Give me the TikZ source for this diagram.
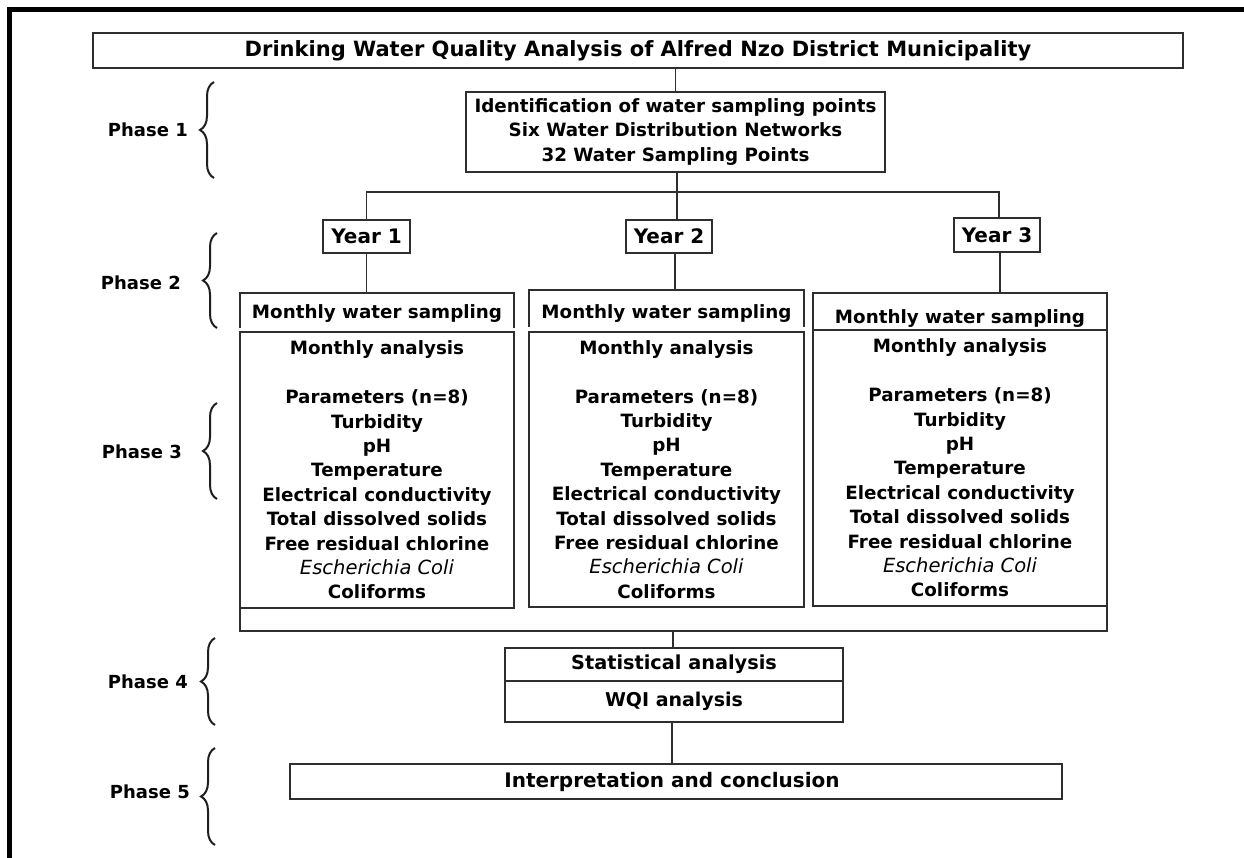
\documentclass[tikz,border=0pt]{standalone}
\usepackage{fontspec}
\setmainfont{DejaVu Sans}
\usetikzlibrary{decorations.pathreplacing}
\begin{document}
\begin{tikzpicture}[x=1pt,y=-1pt,
  box/.style={draw=black!82, line width=1.8pt, inner sep=0pt, outer sep=0pt, align=center,
    font=\bfseries\fontsize{18.3}{24.4}\selectfont},
  openbox/.style={inner sep=0pt, outer sep=0pt, align=center, font=\bfseries\fontsize{18.3}{24.4}\selectfont},
  ln/.style={draw=black!82, line width=1.8pt},
  yearbox/.style={box, font=\bfseries\fontsize{20}{22}\selectfont},
  phase/.style={anchor=east, inner sep=0pt, font=\bfseries\fontsize{18}{22}\selectfont},
  brc/.style={draw=black!88, line width=2pt, decorate, decoration={brace, amplitude=14pt}}]
\useasboundingbox (0,0) rectangle (1244,858);
\fill[white] (0,0) rectangle (1244,858);
% frame
\draw[line width=5.5pt] (9.5,858) -- (9.5,9.5) -- (1244,9.5);

% title
\node[box, minimum width=1090pt, minimum height=35pt, font=\bfseries\fontsize{21}{24}\selectfont] (title) at (638,50.5)
  {Drinking Water Quality Analysis of Alfred Nzo District Municipality};
% identification
\node[box, minimum width=419pt, minimum height=80pt] (ident) at (675.5,132)
  {Identification of water sampling points\\Six Water Distribution Networks\\32 Water Sampling Points};
\draw[ln] (ident.north) -- (ident.north |- title.south);

% years
\node[yearbox, minimum width=87pt, minimum height=33pt] (y1) at (366.5,236.5) {Year 1};
\node[yearbox, minimum width=86pt, minimum height=33pt] (y2) at (669,236.5) {Year 2};
\node[yearbox, minimum width=86pt, minimum height=34pt] (y3) at (997,235) {Year 3};
\coordinate (j) at (677,192);
\draw[ln] (ident.south -| j) -- (j);
\draw[ln] (y1.north) |- (j) -| ([xshift=2pt]y3.north);
\draw[ln] (j) -- (j |- y2.north);

% monthly water sampling
\node[openbox, minimum width=274pt, minimum height=35pt, text height=18pt, text depth=2pt] (m1) at (377,310.5) {Monthly water sampling};
\node[openbox, minimum width=275pt, minimum height=37pt, text height=22pt, text depth=2pt] (m2) at (666.5,308.5) {Monthly water sampling};
\node[box, minimum width=294pt, minimum height=37pt, text height=26pt, text depth=2pt] (m3) at (960,311.5) {Monthly water sampling};
\draw[ln] (m1.south west) -- (m1.north west) -- (m1.north east) -- (m1.south east);
\draw[ln] (m2.south west) -- (m2.north west) -- (m2.north east) -- (m2.south east);
\draw[ln] (y1.south) -- (y1.south |- m1.north);
\draw[ln] ([xshift=6pt]y2.south) -- ([xshift=6pt]y2.south |- m2.north);
\draw[ln] ([xshift=3pt]y3.south) -- ([xshift=3pt]y3.south |- m3.north);

% analysis boxes
\def\analysistext{Monthly analysis\\[24.4pt]Parameters (n=8)\\Turbidity\\pH\\Temperature\\Electrical conductivity\\Total dissolved solids\\Free residual chlorine\\{\mdseries\itshape\fontsize{19.5}{24.4}\selectfont Escherichia Coli}\\Coliforms}
\node[box, minimum width=274pt, minimum height=276pt] (a1) at (377,470) {\analysistext};
\node[box, minimum width=275pt, minimum height=275pt] (a2) at (666.5,469.5) {\analysistext};
\node[box, minimum width=294pt, minimum height=276pt] (a3) at (960,468) {\analysistext};

% outer enclosure
\coordinate (obr) at (1107,631);
\draw[ln] (a1.north west) |- (obr) -- (a3.south east);

% statistical / WQI
\node[box, minimum width=338pt, minimum height=33pt, font=\bfseries\fontsize{19.3}{22}\selectfont] (stat) at (674,664.5) {Statistical analysis};
\node[box, minimum width=338pt, minimum height=41pt, font=\bfseries\fontsize{19}{22}\selectfont] (wqi) at (674,701.5) {WQI analysis};
\coordinate (ob) at (673,631);
\draw[ln] (ob) -- (ob |- stat.north);

% interpretation
\node[box, minimum width=772pt, minimum height=35pt, font=\bfseries\fontsize{20}{24}\selectfont] (interp) at (676,781.5) {Interpretation and conclusion\hspace*{8pt}};
\draw[ln] ([xshift=-2pt]wqi.south) -- ([xshift=-2pt]wqi.south |- interp.north);

% phases
\node[phase] (p1) at (188,130) {Phase 1};
\node[phase] (p2) at (181,283) {Phase 2};
\node[phase] (p3) at (182,452) {Phase 3};
\node[phase] (p4) at (188,682) {Phase 4};
\node[phase] (p5) at (190,792) {Phase 5};
\coordinate (b1t) at (214,82);  \coordinate (b1b) at (214,178);
\coordinate (b2t) at (217,233); \coordinate (b2b) at (217,328);
\coordinate (b3t) at (217,403); \coordinate (b3b) at (217,499);
\coordinate (b4t) at (215,638); \coordinate (b4b) at (215,725);
\coordinate (b5t) at (215,748); \coordinate (b5b) at (215,845);
\draw[brc] (b1b) -- (b1t);
\draw[brc] (b2b) -- (b2t);
\draw[brc] (b3b) -- (b3t);
\draw[brc] (b4b) -- (b4t);
\draw[brc] (b5b) -- (b5t);
\end{tikzpicture}
\end{document}
